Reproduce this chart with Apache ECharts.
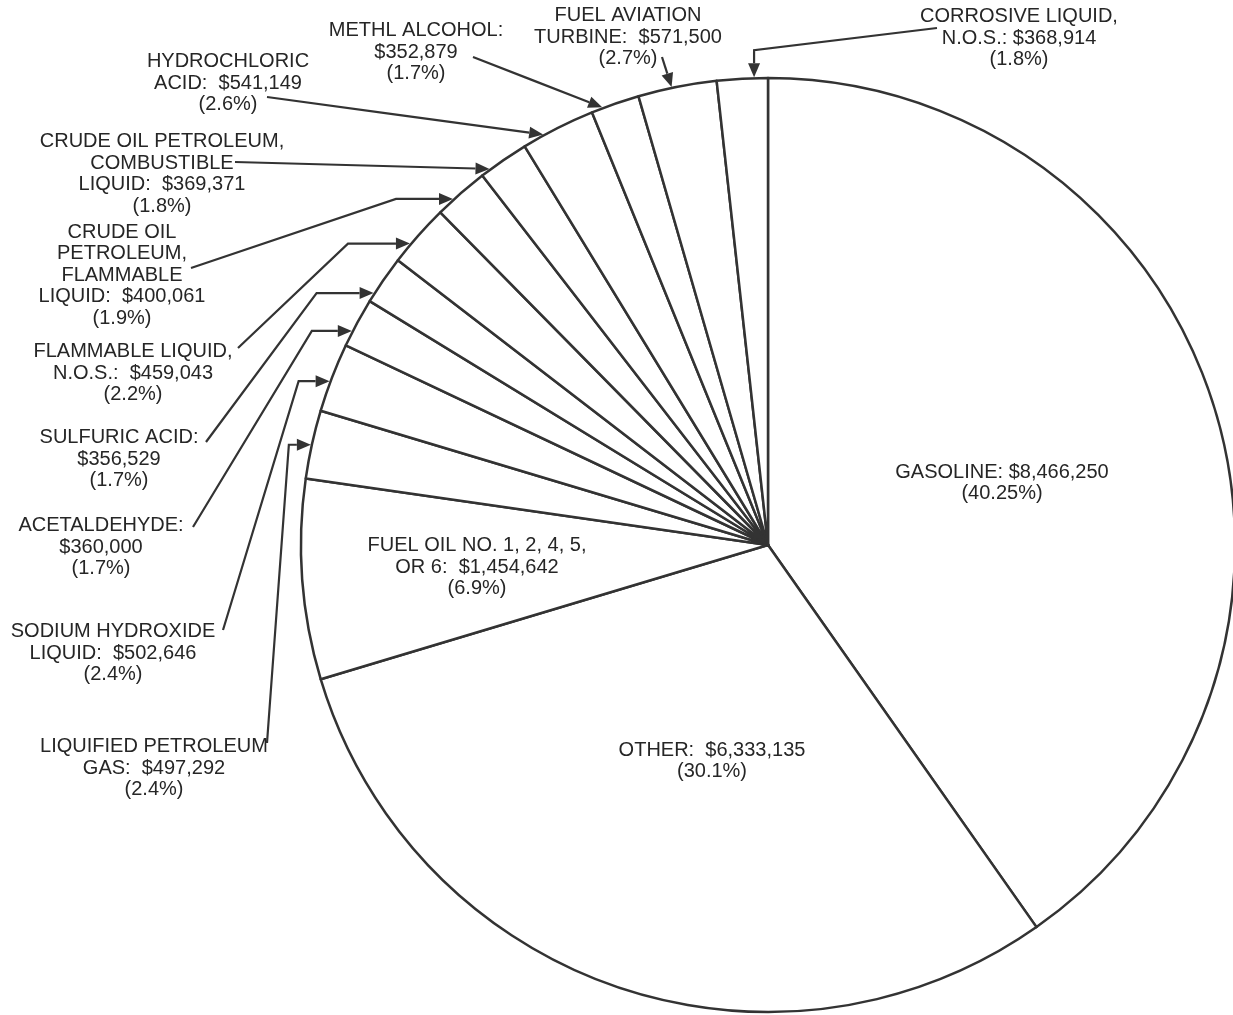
<!DOCTYPE html>
<html>
<head>
<meta charset="utf-8">
<script src="https://cdn.jsdelivr.net/npm/echarts@6/dist/echarts.min.js"></script>
<style>
  html, body { margin: 0; padding: 0; background: #ffffff; }
  #chart { width: 1233px; height: 1015px; }
</style>
</head>
<body>
<div id="chart"></div>
<script>
// slices, clockwise from 12 o'clock
const CATEGORIES = [
  "GASOLINE",
  "OTHER",
  "FUEL OIL NO. 1, 2, 4, 5,\nOR 6",
  "LIQUIFIED PETROLEUM\nGAS",
  "SODIUM HYDROXIDE\nLIQUID",
  "ACETALDEHYDE",
  "SULFURIC ACID",
  "FLAMMABLE LIQUID,\nN.O.S.",
  "CRUDE OIL\nPETROLEUM,\nFLAMMABLE\nLIQUID",
  "CRUDE OIL PETROLEUM,\nCOMBUSTIBLE\nLIQUID",
  "HYDROCHLORIC\nACID",
  "METHL ALCOHOL",
  "FUEL AVIATION\nTURBINE",
  "CORROSIVE LIQUID,\nN.O.S."
];
const VALUES = [8466250, 6333135, 1454642, 497292, 502646, 360000, 356529, 459043, 400061, 369371, 541149, 352879, 571500, 368914];
const PERCENT_LABELS = ["40.25%", "30.1%", "6.9%", "2.4%", "2.4%", "1.7%", "1.7%", "2.2%", "1.9%", "1.8%", "2.6%", "1.7%", "2.7%", "1.8%"];

// label placement: text centre, separator before the dollar amount,
// start of the leader line, where along the slice the arrow aims, and the elbow
const LABEL_LAYOUT = [
  { x: 1002, y: 483, sep: ": $" },
  { x: 712, y: 761, sep: ":  $" },
  { x: 477, y: 567, sep: ":  $" },
  { x: 154, y: 768, sep: ":  $", anchor: [267, 743], aim: 0.49, bend: [-22, 0] },
  { x: 113, y: 653, sep: ":  $", anchor: [223, 630], aim: 0.44, bend: [-31, 0] },
  { x: 101, y: 547, sep: ":\n$", anchor: [193, 527], aim: 0.31, bend: [-40, 0] },
  { x: 119, y: 459, sep: ":\n$", anchor: [206, 442], aim: 0.18, bend: [-57, 0] },
  { x: 133, y: 373, sep: ":  $", anchor: [238, 348], aim: 0.32, bend: [-62, 0] },
  { x: 122, y: 275, sep: ":  $", anchor: [191, 268], aim: 0.33, bend: [-57, 0] },
  { x: 162, y: 174, sep: ":  $", anchor: [235, 162], aim: 0.19 },
  { x: 228, y: 83, sep: ":  $", anchor: [267, 97], aim: 0.29 },
  { x: 416, y: 52, sep: ":\n$", anchor: [473, 57], aim: 0.23 },
  { x: 628, y: 37, sep: ":  $", anchor: [662, 57], aim: 0.43 },
  { x: 1019, y: 38, sep: ": $", anchor: [937, 28], aim: 0.73, bend: [0, -27] }
];

const CX = 768, CY = 545, R = 467;
const INK = "#333333";
const ARROW_LEN = 14, ARROW_HALF = 6;

function money(v) {
  return v.toLocaleString("en-US");
}

// leader line geometry from the slice angles
const total = VALUES.reduce((a, b) => a + b, 0);
const guides = [];
let acc = 0;
VALUES.forEach((v, i) => {
  const start = acc / total * 360;
  acc += v;
  const end = acc / total * 360;
  const L = LABEL_LAYOUT[i];
  if (!L.anchor) { guides.push(null); return; }
  const ang = (start + L.aim * (end - start)) * Math.PI / 180;
  const tip = [CX + (R + 1) * Math.sin(ang), CY - (R + 1) * Math.cos(ang)];
  const bend = L.bend ? [tip[0] + L.bend[0], tip[1] + L.bend[1]] : L.anchor;
  let dx = tip[0] - bend[0], dy = tip[1] - bend[1];
  const len = Math.sqrt(dx * dx + dy * dy);
  dx /= len; dy /= len;
  const base = [tip[0] - dx * ARROW_LEN, tip[1] - dy * ARROW_LEN];
  const mid = L.bend ? bend : [(base[0] + L.anchor[0]) / 2, (base[1] + L.anchor[1]) / 2];
  guides.push({
    line: [base, mid, L.anchor],
    head: [tip, [base[0] - dy * ARROW_HALF, base[1] + dx * ARROW_HALF], [base[0] + dy * ARROW_HALF, base[1] - dx * ARROW_HALF]]
  });
});

const seriesData = CATEGORIES.map((name, i) => {
  const item = { name: name, value: VALUES[i] };
  if (!LABEL_LAYOUT[i].anchor) {
    item.label = { position: "inside" };
    item.labelLine = { show: false };
  }
  return item;
});

const chart = echarts.init(document.getElementById("chart"), null, { renderer: "canvas" });

chart.setOption({
  backgroundColor: "#ffffff",
  animation: false,
  series: [{
    type: "pie",
    center: [CX, CY],
    radius: R,
    startAngle: 90,
    clockwise: true,
    avoidLabelOverlap: false,
    silent: true,
    itemStyle: { color: "#ffffff", borderColor: INK, borderWidth: 2.5 },
    label: {
      show: true,
      position: "outside",
      color: "#262626",
      fontFamily: "Liberation Sans",
      fontSize: 20,
      lineHeight: 21.5,
      align: "center",
      formatter: params => {
        const i = params.dataIndex;
        return params.name + LABEL_LAYOUT[i].sep + money(VALUES[i]) + "\n(" + PERCENT_LABELS[i] + ")";
      }
    },
    labelLine: { show: true, smooth: false, lineStyle: { color: INK, width: 2.2 } },
    labelLayout: params => {
      const i = params.dataIndex;
      const L = LABEL_LAYOUT[i];
      const out = { x: L.x, y: L.y, align: "center", verticalAlign: "middle" };
      if (guides[i]) out.labelLinePoints = guides[i].line;
      return out;
    },
    emphasis: { disabled: true },
    data: seriesData
  }],
  graphic: guides.filter(g => g).map(g => ({
    type: "polygon",
    z: 100,
    silent: true,
    shape: { points: g.head },
    style: { fill: INK }
  }))
});
</script>
</body>
</html>
